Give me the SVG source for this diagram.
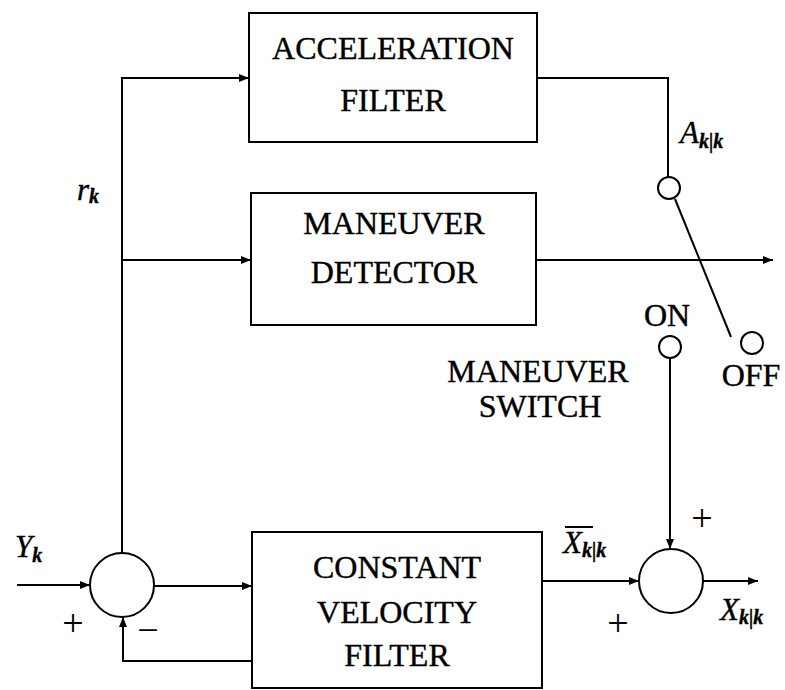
<svg xmlns="http://www.w3.org/2000/svg" width="785" height="690" viewBox="0 0 785 690">
<style>
.box{fill:#fff;stroke:#000;stroke-width:2}
.ln{fill:none;stroke:#000;stroke-width:2}
.t{font-family:'Liberation Serif','DejaVu Serif','Times New Roman',serif;font-size:32px;fill:#000;stroke:#000;stroke-width:0.4;text-anchor:middle}
.m{font-family:'Liberation Serif','DejaVu Serif','Times New Roman',serif;font-style:italic;font-size:31px;fill:#000;stroke:#000;stroke-width:0.4}
.s{font-size:20px;font-weight:bold}
.p{font-family:'Liberation Serif','DejaVu Serif','Times New Roman',serif;font-size:38px;fill:#000;text-anchor:middle}
</style>
<defs>
<marker id="ah" viewBox="0 0 10 8" refX="10" refY="4" markerWidth="10" markerHeight="8" markerUnits="userSpaceOnUse" orient="auto">
<path d="M0,0 L10,4 L0,8 Z" fill="#000"/>
</marker>
</defs>
<rect width="785" height="690" fill="#fff"/>
<g id="connectors">
<line class="ln" x1="17" y1="585" x2="90" y2="585" marker-end="url(#ah)"/>
<polyline class="ln" points="122,553 122,78 249,78" marker-end="url(#ah)"/>
<line class="ln" x1="122" y1="260" x2="251" y2="260" marker-end="url(#ah)"/>
<line class="ln" x1="154" y1="586" x2="252" y2="586" marker-end="url(#ah)"/>
<polyline class="ln" points="252,661 123,661 123,617" marker-end="url(#ah)"/>
<polyline class="ln" points="537,78 668,78 668,177"/>
<line class="ln" x1="675" y1="199" x2="731" y2="337"/>
<line class="ln" x1="536" y1="260" x2="773" y2="260" marker-end="url(#ah)"/>
<line class="ln" x1="670" y1="358" x2="670" y2="549" marker-end="url(#ah)"/>
<line class="ln" x1="542" y1="581" x2="639" y2="581" marker-end="url(#ah)"/>
<line class="ln" x1="703" y1="581" x2="758" y2="581" marker-end="url(#ah)"/>
</g>
<g id="sum1"><circle class="ln" cx="122" cy="585" r="32"/></g>
<g id="sum2"><circle class="ln" cx="671" cy="581" r="32"/></g>
<g id="acc">
<rect class="box" x="249" y="13" width="288" height="129"/>
<text class="t" x="393" y="59">ACCELERATION</text>
<text class="t" x="393" y="111">FILTER</text>
</g>
<g id="det">
<rect class="box" x="251" y="193" width="285" height="132"/>
<text class="t" x="394" y="234">MANEUVER</text>
<text class="t" x="394" y="283">DETECTOR</text>
</g>
<g id="cv">
<rect class="box" x="252" y="532" width="290" height="156"/>
<text class="t" x="397" y="578">CONSTANT</text>
<text class="t" x="397" y="623">VELOCITY</text>
<text class="t" x="397" y="666">FILTER</text>
</g>
<g id="switch">
<circle class="ln" cx="669" cy="188" r="11"/>
<circle class="ln" cx="670" cy="347" r="11"/>
<circle class="ln" cx="752" cy="343" r="11"/>
<text class="t" x="667" y="326">ON</text>
<text class="t" x="751" y="386">OFF</text>
<text class="t" x="538" y="382">MANEUVER</text>
<text class="t" x="540" y="417">SWITCH</text>
</g>
<g id="labels">
<text class="m" x="15" y="557">Y<tspan class="s" dy="5">k</tspan></text>
<text class="m" x="77" y="200">r<tspan class="s" dy="3">k</tspan></text>
<text class="m" x="680" y="143">A<tspan class="s" dy="5">k|k</tspan></text>
<text class="m" x="563" y="553">X<tspan class="s" dy="4">k|k</tspan></text>
<line class="ln" x1="565" y1="527" x2="593" y2="527"/>
<text class="m" x="720" y="620">X<tspan class="s" dy="4">k|k</tspan></text>
<text class="p" x="73" y="636">+</text>
<text class="p" x="148" y="643">−</text>
<text class="p" x="702" y="531">+</text>
<text class="p" x="618" y="636">+</text>
</g>
</svg>
